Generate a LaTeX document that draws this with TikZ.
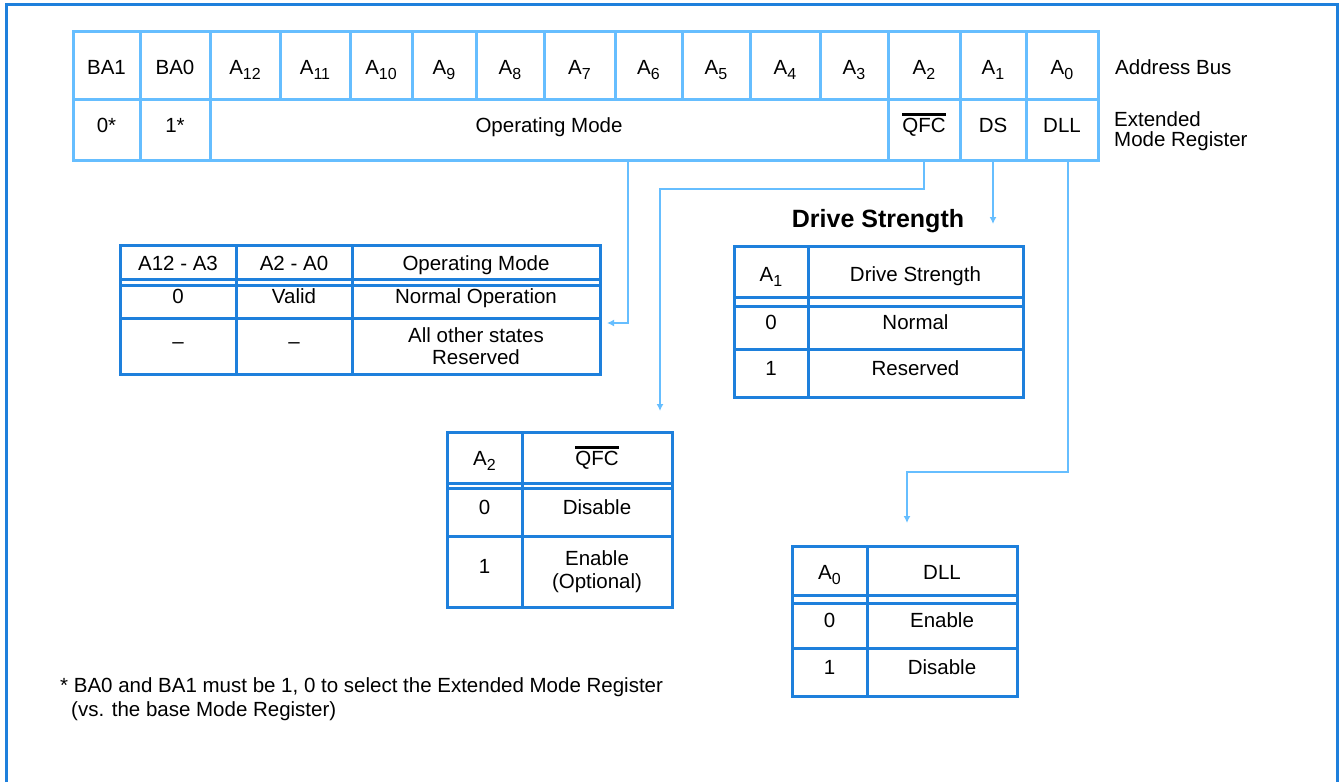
\documentclass[tikz,border=0pt]{standalone}
\usepackage{fontspec}
\setmainfont{Liberation Sans}
\usepackage{xcolor}
\usepackage{tikz}
\usetikzlibrary{arrows.meta}

\definecolor{regblue}{RGB}{102,190,255}
\definecolor{tabblue}{RGB}{30,128,220}

\newcommand{\ix}[1]{\raisebox{-5pt}{\fontsize{16}{16}\selectfont #1}}
\newcommand{\notbar}[1]{\vbox{\hrule height 2.8pt\kern 2pt\hbox{#1}}}

\begin{document}
\begin{tikzpicture}[x=1pt, y=-1pt,
  font=\fontsize{20.5}{22.5}\selectfont,
  wh/.style 2 args={minimum width=#1, minimum height=#2},
  reg/.style={draw=regblue, line width=3pt, inner sep=0pt, outer sep=0pt},
  bus/.style={reg, minimum height=68, text height=18pt, text depth=0pt},
  mode/.style={reg, minimum height=61, text height=12pt, text depth=7pt},
  tab/.style={draw=tabblue, line width=3pt, inner sep=0pt, outer sep=0pt, align=center},
  head/.style={tab, text height=15pt, text depth=5pt},
  cell/.style={tab, text height=12pt, text depth=8pt},
  tabline/.style={draw=tabblue, line width=3pt},
  conn/.style={draw=regblue, line width=2.5pt, -{Latex[length=7pt, width=7pt]}},
  lab/.style={inner sep=0pt}]
\useasboundingbox (0,0) rectangle (1340,782);

%% cadre
\draw[tabline] (6,782) -- (6,4) -- (1337,4) -- (1337,782);

%% registre : bus d'adresse
\foreach \xa/\xb/\lab [count=\i] in {73/140/BA1, 140/210/BA0, 210/280/A\ix{12}, 280/350/A\ix{11}, 350/412/A\ix{10}, 412/476/A\ix{9}, 476/544/A\ix{8}, 544/615/A\ix{7}, 615/682/A\ix{6}, 682/750/A\ix{5}, 750/820/A\ix{4}, 820/888/A\ix{3}, 888/960/A\ix{2}, 960/1026/A\ix{1}, 1026/1098/A\ix{0}}
  \node[bus, minimum width={\xb-\xa}] (bus\i) at ({(\xa+\xb)/2},65) {\lab};

%% registre : mode etendu
\node[mode, minimum width=67] (mba1) at (106.5,129.5) {0*};
\node[mode, minimum width=70] (mba0) at (175,129.5) {1*};
\node[mode, minimum width=678] (mop) at (549,129.5) {Operating Mode};
\node[mode, minimum width=72] (mqfc) at (924,129.5) {\notbar{QFC}};
\node[mode, minimum width=66] (mds) at (993,129.5) {DS};
\node[mode, minimum width=72] (mdll) at (1062,129.5) {DLL};

\node[lab, anchor=base west] (busname) at (1115,74) {Address Bus};
\node[lab, anchor=base west] (emr1) at (1114,126) {Extended};
\node[lab, anchor=base west] (emr2) at (1114,146) {Mode Register};

%% table operating mode
\node[head, wh={116}{40}] (oph1) at (178,265) {A12 - A3};
\node[head, wh={116}{40}] (oph2) at (294,265) {A2 - A0};
\node[head, wh={248}{40}] (oph3) at (476,265) {Operating Mode};
\node[cell, wh={116}{33}] (op11) at (178,301.5) {0};
\node[cell, wh={116}{33}] (op12) at (294,301.5) {Valid};
\node[cell, wh={248}{33}] (op13) at (476,301.5) {Normal Operation};
\node[cell, wh={116}{56}] (op21) at (178,346) {\textendash};
\node[cell, wh={116}{56}] (op22) at (294,346) {\textendash};
\node[tab, wh={248}{56}] (op23) at (476,346) {All other states\\Reserved};
\draw[tabline] ([yshift=6pt]oph1.south west) -- ([yshift=6pt]oph3.south east);

%% table drive strength
\node[lab, anchor=base, font=\fontsize{25}{28}\selectfont\bfseries] (dstitle) at (878,227) {Drive Strength};
\node[head, wh={74}{60}] (dsh1) at (771,276) {A\ix{1}};
\node[head, wh={215}{60}] (dsh2) at (915.5,276) {Drive Strength};
\node[cell, wh={74}{43}] (ds11) at (771,327.5) {0};
\node[cell, wh={215}{43}] (ds12) at (915.5,327.5) {Normal};
\node[cell, wh={74}{48}] (ds21) at (771,373) {1};
\node[cell, wh={215}{48}] (ds22) at (915.5,373) {Reserved};
\draw[tabline] ([yshift=9pt]dsh1.south west) -- ([yshift=9pt]dsh2.south east);

%% table QFC
\node[head, wh={75}{56}] (qfh1) at (484.5,460) {A\ix{2}};
\node[head, wh={150}{56}] (qfh2) at (597,460) {\notbar{QFC}};
\node[cell, wh={75}{48}] (qf11) at (484.5,512) {0};
\node[cell, wh={150}{48}] (qf12) at (597,512) {Disable};
\node[cell, wh={75}{71}] (qf21) at (484.5,571.5) {1};
\node[tab, wh={150}{71}] (qf22) at (597,571.5) {Enable\\(Optional)};
\draw[tabline] ([yshift=5pt]qfh1.south west) -- ([yshift=5pt]qfh2.south east);

%% table DLL
\node[head, wh={75}{57}] (dlh1) at (829.5,574.5) {A\ix{0}};
\node[head, wh={150}{57}] (dlh2) at (942,574.5) {DLL};
\node[cell, wh={75}{45}] (dl11) at (829.5,625.5) {0};
\node[cell, wh={150}{45}] (dl12) at (942,625.5) {Enable};
\node[cell, wh={75}{48}] (dl21) at (829.5,672) {1};
\node[cell, wh={150}{48}] (dl22) at (942,672) {Disable};
\draw[tabline] ([yshift=8pt]dlh1.south west) -- ([yshift=8pt]dlh2.south east);

%% fleches
\draw[conn] ([xshift=79pt]mop.south) |- ([xshift=7pt,yshift=-5pt]op23.north east);
\draw[conn] (mqfc.south) -- ++(0,29) -| ([xshift=63pt,yshift=21pt]qfh2.north);
\draw[conn] (mds.south) -- ([yshift=-64pt]mds.south);
\draw[conn] ([xshift=6pt]mdll.south) -- ++(0,312) -| ([xshift=-35pt,yshift=23pt]dlh2.north);

%% note
\node[lab, anchor=base west] (note1) at (60,692) {* BA0 and BA1 must be 1, 0 to select the Extended Mode Register};
\node[lab, anchor=base west] (note2) at (71,716) {(vs. the base Mode Register)};

\end{tikzpicture}
\end{document}
